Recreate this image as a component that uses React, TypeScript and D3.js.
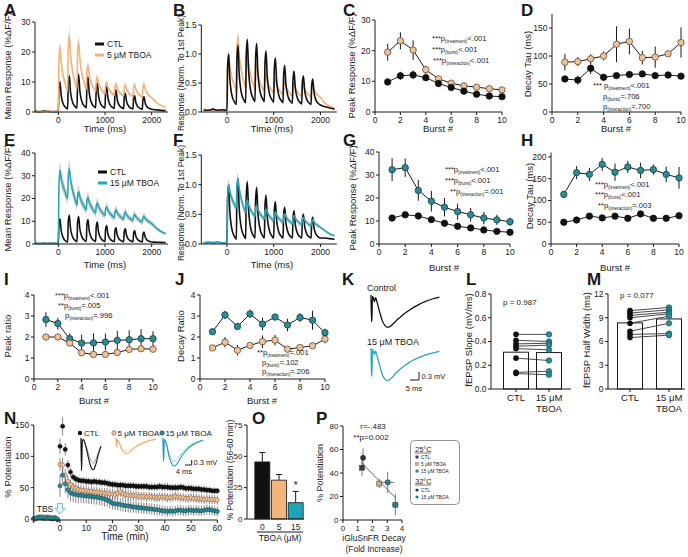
import React from 'react';
import * as d3 from 'd3';

const FONT = '"Liberation Sans", Arial, Helvetica, sans-serif';
const INK = '#1a1a1a';
const ORANGE = '#F4B47B';
const ORANGE_MK = '#EBC39C';
const ORANGE_EDGE = '#6b4a2c';
const TEAL = '#2BA6B7';
const TEAL_MK = '#2B8C96';
const TEAL_EDGE = '#173f44';
const SEM = '#cfcfcf';

// ---------- traces (A, B, E, F) ----------
const burstOnsets = [0, 200, 400, 600, 800, 1000, 1200, 1400, 1600, 1800];
const preTimes = [-500, -400, -300, -200, -100, 0];
const decayOffsets = [35, 60, 90, 120, 160, 200];
const shapeCtl = [1, 0.52, 0.26, 0.13, 0.05, 0];
const shapeTboa5 = [1, 0.66, 0.42, 0.27, 0.12, 0];
const shapeTboa15 = [1, 0.72, 0.5, 0.34, 0.16, 0];
const tailTimes = [2100, 2200, 2300];

const aCtlPre = [0.3, 0.1, 0.3, 0.2, 0.1, 0.2];
const aCtlPeak = [10.1, 12.1, 12.5, 11.6, 9.6, 8.4, 7.3, 6.2, 5.4, 5.1];
const aCtlTrough = [1.0, 1.3, 1.4, 1.4, 1.3, 1.2, 1.1, 1.0, 0.9, 0.9];
const aCtlTail = [0.7, 0.55, 0.45];
const aTboaPre = [0.1, 0.2, 0.1, 0.2, 0.2, 0.1];
const aTboaPeak = [21.7, 25.6, 23.4, 15.5, 11.6, 9.9, 9.3, 9.1, 9.1, 9.3];
const aTboaTrough = [7.0, 7.6, 7.5, 6.8, 6.0, 5.6, 5.3, 5.1, 4.9, 4.7];
const aTboaTail = [3.2, 2.2, 1.6];

const bCtlPre = [0.04, 0.03, 0.05, 0.03, 0.04, 0.03];
const bCtlPeak = [1.0, 1.15, 1.25, 1.18, 1.05, 0.93, 0.8, 0.7, 0.62, 0.57];
const bCtlTrough = [0.13, 0.16, 0.18, 0.18, 0.17, 0.16, 0.15, 0.14, 0.13, 0.12];
const bCtlTail = [0.09, 0.07, 0.05];
const bTboaPre = [0.02, 0.03, 0.02, 0.03, 0.02, 0.02];
const bTboaPeak = [1.0, 1.3, 1.1, 0.8, 0.65, 0.57, 0.53, 0.5, 0.48, 0.47];
const bTboaTrough = [0.38, 0.42, 0.4, 0.36, 0.33, 0.3, 0.28, 0.27, 0.26, 0.25];
const bTboaTail = [0.15, 0.1, 0.07];

const eCtlPre = [0.3, 0.2, 0.3, 0.2, 0.3, 0.2];
const eCtlPeak = [11.1, 12.6, 12.1, 10.8, 9.6, 8.1, 7.1, 6.7, 5.9, 5.2];
const eCtlTrough = [0.8, 1.0, 1.1, 1.1, 1.1, 1.0, 1.0, 1.0, 0.9, 0.9];
const eCtlTail = [0.8, 0.7, 0.6];
const eTboaPre = [0.2, 0.3, 0.2, 0.3, 0.2, 0.3];
const eTboaPeak = [32.5, 33.2, 23, 20.5, 18, 16.3, 15, 14, 13, 12.2];
const eTboaTrough = [20, 17, 15, 13.5, 12.5, 11.5, 10.8, 10.2, 9.6, 9.0];
const eTboaTail = [7, 5.5, 4.5];

const fCtlPre = [0.02, 0.03, 0.02, 0.03, 0.02, 0.02];
const fCtlPeak = [1.0, 1.1, 1.05, 0.95, 0.82, 0.71, 0.62, 0.56, 0.5, 0.45];
const fCtlTrough = [0.08, 0.09, 0.1, 0.1, 0.1, 0.1, 0.1, 0.1, 0.1, 0.1];
const fCtlTail = [0.1, 0.09, 0.08];
const fTboaPre = [0.02, 0.02, 0.03, 0.02, 0.02, 0.02];
const fTboaPeak = [1.0, 1.1, 0.74, 0.65, 0.59, 0.54, 0.51, 0.48, 0.45, 0.41];
const fTboaTrough = [0.6, 0.52, 0.46, 0.42, 0.39, 0.36, 0.34, 0.32, 0.3, 0.28];
const fTboaTail = [0.22, 0.17, 0.14];

// ---------- burst summaries ----------
const bursts = [1, 2, 3, 4, 5, 6, 7, 8, 9, 10];
const cCtl = [9.8, 11.8, 12.1, 11.2, 9.3, 8.0, 6.8, 5.8, 5.2, 5.0];
const cCtlErr = [1.0, 1.3, 1.4, 1.1, 0.8, 0.6, 0.5, 0.4, 0.4, 0.4];
const cTboa = [19.5, 23.2, 20.2, 13.8, 10.8, 9.4, 8.5, 8.1, 7.6, 7.2];
const cTboaErr = [2.8, 2.8, 3.2, 1.3, 0.8, 0.7, 0.6, 0.6, 0.6, 0.8];

const dCtl = [59, 57, 78, 62, 65, 67, 68, 65, 66, 64];
const dCtlErr = [5, 8, 10, 3, 2, 2, 2, 4, 2, 4];
const dTboa = [89, 90, 95, 100, 121, 126, 97, 98, 104, 124];
const dTboaErr = [15, 8, 8, 8, 32, 23, 12, 19, 3, 27];

const gCtl = [11.3, 12.7, 12.2, 10.6, 9.0, 7.7, 7.0, 6.1, 5.5, 5.1];
const gCtlErr = [1.3, 1.0, 1.0, 1.0, 0.7, 0.5, 0.5, 0.4, 0.4, 0.4];
const gTboa = [32.3, 33.2, 23.3, 18.6, 16.0, 14.1, 12.7, 11.3, 10.5, 9.7];
const gTboaErr = [5, 4, 4.5, 4.5, 4, 3.5, 3, 2.7, 2.2, 1.7];

const hCtl = [50, 55, 64, 60, 64, 59, 69, 59, 59, 65];
const hCtlErr = [3, 4, 4, 3, 4, 3, 6, 3, 3, 4];
const hTboa = [114, 164, 160, 183, 165, 177, 169, 171, 160, 152];
const hTboaErr = [8, 15, 15, 15, 20, 14, 18, 12, 18, 25];

const iTboa15 = [2.83, 2.64, 1.92, 1.71, 1.72, 1.76, 1.84, 1.87, 1.92, 1.92];
const iTboa15Err = [0.35, 0.28, 0.25, 0.4, 0.45, 0.4, 0.45, 0.45, 0.45, 0.35];
const iTboa5 = [2.0, 2.0, 1.71, 1.25, 1.17, 1.17, 1.26, 1.41, 1.44, 1.42];
const iTboa5Err = [0.08, 0.08, 0.1, 0.07, 0.06, 0.06, 0.07, 0.07, 0.07, 0.1];

const jTboa15 = [2.25, 3.05, 2.5, 3.1, 2.62, 2.95, 2.57, 2.93, 2.8, 2.2];
const jTboa15Err = [0.15, 0.2, 0.08, 0.2, 0.3, 0.15, 0.3, 0.2, 0.45, 0.2];
const jTboa5 = [1.48, 1.75, 1.37, 1.6, 1.78, 1.85, 1.42, 1.5, 1.58, 1.9];
const jTboa5Err = [0.08, 0.25, 0.25, 0.15, 0.3, 0.25, 0.1, 0.1, 0.08, 0.2];

// ---------- K traces ----------
const kTime = [0, 0.25, 0.5, 0.8, 1.3, 1.9, 2.5, 3.1, 3.8, 5, 6.2, 7.5, 8.8, 10, 11.5, 13, 15, 17.5, 20, 23, 26.5, 30, 34, 38];
const kCtl = [0, -1.0, -1.0, -0.05, -0.1, -0.25, -0.1, -0.2, -0.38, -0.68, -0.95, -1.12, -1.2, -1.2, -1.13, -1.03, -0.9, -0.76, -0.63, -0.49, -0.36, -0.25, -0.15, -0.08];
const kTboa = [0, -1.05, -1.05, -0.05, -0.1, -0.25, -0.12, -0.22, -0.4, -0.7, -0.98, -1.15, -1.22, -1.2, -1.12, -1.0, -0.86, -0.72, -0.6, -0.47, -0.36, -0.27, -0.19, -0.13];

// ---------- L, M ----------
const pairLabels = ['CTL', '15 μM|TBOA'];
const lCtl = [0.46, 0.41, 0.38, 0.36, 0.34, 0.26, 0.14, 0.13];
const lTboa = [0.46, 0.4, 0.385, 0.37, 0.33, 0.24, 0.15, 0.12];
const mCtl = [9.9, 9.6, 9.3, 9.0, 8.3, 7.3, 6.9, 6.5];
const mTboa = [10.3, 10.0, 9.7, 9.5, 9.2, 8.3, 7.0, 6.8];

// ---------- N ----------
const nBaseTimes = [-10, -9, -8, -7, -6, -5, -4, -3, -2, -1];
const nCtlBase = [0, 1, 3, 2, 1, 2, 1, 0, 2, -1];
const nT5Base = [-1, 1, 2, 4, 3, 1, 3, 2, 1, 0];
const nT15Base = [1, 2, 3, 2, 2, 3, 2, 1, 2, 0];
const nCtl = [116, 148, 111, 86, 75, 67, 64, 62, 61, 61, 60, 60, 59, 60, 59, 59, 58, 58, 57, 56, 55, 55, 54, 54, 54, 53, 53, 53, 53, 52, 52, 52, 52, 52, 51, 51, 51, 51, 52, 51, 51, 51, 50, 50, 50, 50, 51, 50, 49, 49, 49, 48, 48, 48, 47, 47, 46, 46, 45, 45, 45];
const nCtlErr = [12, 15, 10, 8, 7, 6, 6, 6, 6, 6, 6, 6, 6, 6, 6, 6, 6, 6, 6, 6, 6, 6, 6, 6, 6, 6, 6, 6, 6, 6, 6, 6, 6, 6, 6, 6, 6, 6, 6, 6, 6, 6, 6, 6, 6, 6, 6, 6, 6, 6, 6, 6, 6, 6, 6, 6, 6, 5, 5, 5, 5];
const nT5 = [87, 86, 70, 60, 55, 51, 49, 47, 46, 45, 45, 44, 44, 43, 43, 42, 42, 41, 41, 40, 40, 39, 41, 43, 40, 39, 38, 38, 37, 37, 36, 36, 36, 35, 36, 35, 35, 34, 35, 35, 35, 34, 34, 35, 36, 35, 34, 34, 33, 33, 34, 33, 33, 32, 32, 31, 32, 31, 31, 31, 30];
const nT5Err = [10, 12, 10, 9, 8, 8, 8, 8, 8, 8, 8, 8, 8, 8, 8, 8, 8, 8, 8, 8, 8, 8, 8, 8, 8, 8, 8, 8, 8, 8, 7, 7, 7, 7, 7, 7, 7, 7, 7, 7, 7, 7, 7, 7, 7, 7, 7, 7, 7, 7, 7, 7, 7, 7, 7, 7, 7, 7, 7, 7, 7];
const nT15 = [53, 70, 56, 47, 42, 40, 39, 38, 38, 37, 37, 36, 36, 35, 35, 34, 33, 32, 30, 28, 25, 24, 24, 23, 22, 21, 21, 20, 19, 19, 18, 18, 17, 17, 16, 16, 15, 15, 14, 13, 13, 12, 13, 12, 13, 14, 14, 13, 13, 14, 14, 13, 14, 13, 13, 14, 15, 15, 14, 13, 12];
const nT15Err = [18, 15, 15, 14, 14, 13, 13, 13, 12, 12, 12, 12, 12, 12, 12, 12, 12, 12, 11, 11, 10, 10, 10, 10, 10, 10, 10, 10, 9, 9, 9, 9, 9, 9, 9, 9, 9, 9, 8, 8, 8, 8, 8, 8, 8, 8, 8, 8, 8, 8, 8, 8, 8, 8, 8, 8, 8, 8, 8, 8, 8];
const nInsetCtlT = [0, 0.3, 0.8, 1.5, 2.5, 3.5, 4.5, 5.5, 6.5, 7.5, 8.5, 9.5, 10.5, 12];
const nInsetCtlPost = [0, -1.95, -0.15, -0.1, -0.35, -0.75, -1.2, -1.6, -1.85, -1.9, -1.7, -1.35, -0.95, -0.5];
const nInsetCtlBase = [0, -1.95, -0.15, -0.12, -0.32, -0.62, -0.95, -1.25, -1.45, -1.5, -1.38, -1.1, -0.8, -0.45];
const nInsetT = [0, 0.3, 0.8, 1.5, 2.5, 3.5, 5, 6.5, 8, 9.5, 11, 13, 15, 18, 21, 24];
const nInset5Post = [0, -0.55, -0.1, -0.2, -0.45, -0.7, -0.88, -0.92, -0.86, -0.74, -0.62, -0.48, -0.37, -0.24, -0.14, -0.08];
const nInset5Base = [0, -0.55, -0.1, -0.18, -0.38, -0.58, -0.72, -0.76, -0.72, -0.62, -0.52, -0.4, -0.3, -0.2, -0.12, -0.07];
const nInset15Post = [0, -1.4, -0.1, -0.2, -0.55, -1.05, -1.5, -1.68, -1.6, -1.38, -1.12, -0.84, -0.62, -0.4, -0.25, -0.14];
const nInset15Base = [0, -1.4, -0.1, -0.18, -0.48, -0.88, -1.25, -1.4, -1.33, -1.14, -0.93, -0.7, -0.52, -0.34, -0.21, -0.12];

// ---------- O ----------
const oLabels = ['0', '5', '15'];
const oVals = [45.5, 31, 13];
const oErr = [7.5, 4.5, 9];

// ---------- P ----------
const pX = [1.29, 1.36, 2.46, 3.03, 3.55];
const pY = [44.5, 53, 31, 32, 13];
const pXErr = [0.08, 0.08, 0.18, 0.45, 0.22];
const pYErr = [7, 8, 4, 9, 9];
const pShape = ['square', 'circle', 'square', 'circle', 'square'];
const pColors = ['#3d3d3d', '#333333', '#D9A778', '#2A7F88', '#2A7F88'];
const pFitX = [1.24, 3.55];
const pFitY = [49, 19];

// ---------- helpers ----------
type Pt = [number, number];

function burstTrace(pre: number[], peaks: number[], troughs: number[], shape: number[], tail: number[]): Pt[] {
  const pts: Pt[] = preTimes.map((t, i) => [t, pre[i]] as Pt);
  burstOnsets.forEach((on, i) => {
    const prev = i === 0 ? pre[pre.length - 1] : troughs[i - 1];
    pts.push([on + 12, prev + (peaks[i] - prev) * 0.75]);
    decayOffsets.forEach((off, j) => {
      pts.push([on + off, troughs[i] + (peaks[i] - troughs[i]) * shape[j]]);
    });
  });
  tailTimes.forEach((t, i) => pts.push([t, tail[i]]));
  return pts;
}

function T(props: any) {
  return <text fill={INK} {...props} />;
}

function YAxis({ scale, ticks, x, fmt, fs = 8.5, top }: any) {
  const r = scale.range();
  const f = fmt || ((d: number) => String(d));
  return (
    <g>
      <line x1={x} x2={x} y1={r[0]} y2={top ?? r[1]} stroke={INK} />
      {ticks.map((t: number) => (
        <g key={t}>
          <line x1={x - 3} x2={x} y1={scale(t)} y2={scale(t)} stroke={INK} />
          <T x={x - 4.5} y={scale(t)} dy="0.35em" textAnchor="end" fontSize={fs}>{f(t)}</T>
        </g>
      ))}
    </g>
  );
}

function XAxis({ scale, ticks, y, fmt, fs = 8.5, x0, x1, labelTicks }: any) {
  const r = scale.range();
  const f = fmt || ((d: number) => String(d));
  const lt = labelTicks || ticks;
  return (
    <g>
      <line x1={x0 ?? r[0]} x2={x1 ?? r[1]} y1={y} y2={y} stroke={INK} />
      {ticks.map((t: number) => (
        <line key={'t' + t} x1={scale(t)} x2={scale(t)} y1={y} y2={y + 3} stroke={INK} />
      ))}
      {lt.map((t: number) => (
        <T key={'l' + t} x={scale(t)} y={y + 10.5} textAnchor="middle" fontSize={fs}>{f(t)}</T>
      ))}
    </g>
  );
}

function VTitle({ x, y, fs = 9.5, children }: any) {
  return (
    <T transform={`translate(${x},${y}) rotate(-90)`} textAnchor="middle" fontSize={fs}>{children}</T>
  );
}

function PanelLabel({ x, y, children }: any) {
  return <T x={x} y={y} fontSize={17} fontWeight="bold">{children}</T>;
}

function PText({ x, y, stars, sub, rest, fs = 7.6 }: any) {
  return (
    <T x={x} y={y} dy="0.35em" fontSize={fs}>
      <tspan fill={INK}>{stars + 'p'}</tspan>
      <tspan fill={INK} fontSize={fs * 0.6} dy={fs * 0.28}>{'(' + sub + ')'}</tspan>
      <tspan fill={INK} dy={-fs * 0.28}>{rest}</tspan>
    </T>
  );
}

function Series({ xs, ys, errs, sx, sy, fill, stroke, r = 3.2 }: any) {
  const line = d3.line<number>().x((_, i) => sx(xs[i])).y((d) => sy(d));
  return (
    <g>
      <path d={line(ys) || ''} fill="none" stroke={INK} strokeWidth={1} />
      {ys.map((v: number, i: number) => (
        <line key={'e' + i} x1={sx(xs[i])} x2={sx(xs[i])} y1={sy(v - errs[i])} y2={sy(v + errs[i])} stroke={INK} strokeWidth={1} />
      ))}
      {ys.map((v: number, i: number) => (
        <circle key={'c' + i} cx={sx(xs[i])} cy={sy(v)} r={r} fill={fill} stroke={stroke} strokeWidth={0.8} />
      ))}
    </g>
  );
}

function TraceSet({ traces, sx, sy }: any) {
  const line = d3.line<Pt>().x((d) => sx(d[0])).y((d) => sy(d[1])).curve(d3.curveMonotoneX);
  return (
    <g>
      {traces.map((t: any, i: number) => {
        const a = d3
          .area<Pt>()
          .x((d) => sx(d[0]))
          .y0((d) => sy(d[1] * (1 - t.sem)))
          .y1((d) => sy(d[1] * (1 + t.sem)))
          .curve(d3.curveMonotoneX);
        return <path key={'a' + i} d={a(t.pts) || ''} fill={SEM} stroke="none" />;
      })}
      {traces.map((t: any, i: number) => (
        <path key={'l' + i} d={line(t.pts) || ''} fill="none" stroke={t.color} strokeWidth={1.6} />
      ))}
    </g>
  );
}

function WaveTrace({ t, v, x0, y0, pxPerMs, pxPerMv, color, width = 1.3 }: any) {
  const sx = d3.scaleLinear().domain([0, 1]).range([x0, x0 + pxPerMs]);
  const sy = d3.scaleLinear().domain([0, 1]).range([y0, y0 - pxPerMv]);
  const line = d3.line<number>().x((_, i) => sx(t[i])).y((d) => sy(d)).curve(d3.curveMonotoneX);
  return <path d={line(v) || ''} fill="none" stroke={color} strokeWidth={width} strokeLinejoin="round" />;
}

function PairPanel({ axisX, xEnd, sy, yTicks, fmt, ctl, tboa, cx, title, titleX, ptext, ptextX, ptextY }: any) {
  const bw = 25;
  const mC = d3.mean(ctl) as number;
  const mT = d3.mean(tboa) as number;
  const base = sy.range()[0];
  return (
    <g>
      <rect x={cx[0] - bw / 2} y={sy(mC)} width={bw} height={base - sy(mC)} fill="#fff" stroke={INK} />
      <rect x={cx[1] - bw / 2} y={sy(mT)} width={bw} height={base - sy(mT)} fill="#fff" stroke={INK} />
      {ctl.map((v: number, i: number) => (
        <line key={'p' + i} x1={cx[0]} x2={cx[1]} y1={sy(v)} y2={sy(tboa[i])} stroke={INK} strokeWidth={0.8} />
      ))}
      {ctl.map((v: number, i: number) => (
        <circle key={'c' + i} cx={cx[0]} cy={sy(v)} r={2.8} fill="#111" />
      ))}
      {tboa.map((v: number, i: number) => (
        <circle key={'t' + i} cx={cx[1]} cy={sy(v)} r={2.8} fill={TEAL_MK} stroke={TEAL_EDGE} strokeWidth={0.5} />
      ))}
      <YAxis scale={sy} ticks={yTicks} x={axisX} fmt={fmt} />
      <line x1={axisX} x2={xEnd} y1={base} y2={base} stroke={INK} />
      {cx.map((c: number) => (
        <line key={'xt' + c} x1={c} x2={c} y1={base} y2={base + 3} stroke={INK} />
      ))}
      {pairLabels.map((lab, i) => (
        <T key={lab} x={cx[i]} y={base + 12} textAnchor="middle" fontSize={9.5}>
          {lab.split('|').map((s, j) => (
            <tspan key={j} fill={INK} x={cx[i]} dy={j === 0 ? 0 : 10.5}>{s}</tspan>
          ))}
        </T>
      ))}
      <VTitle x={titleX} y={340}>{title}</VTitle>
      <T x={ptextX} y={ptextY} dy="0.35em" fontSize={8}>{ptext}</T>
    </g>
  );
}

export default function App() {
  const sxA = d3.scaleLinear().domain([-500, 2350]).range([35, 168]);
  const syA = d3.scaleLinear().domain([0, 30]).range([112, 22]);
  const sxB = d3.scaleLinear().domain([-550, 2350]).range([201.3, 336.8]);
  const syB = d3.scaleLinear().domain([0, 1.5]).range([112, 25]);
  const sxC = d3.scaleLinear().domain([0, 10]).range([375, 502]);
  const syC = d3.scaleLinear().domain([0, 30]).range([112, 20]);
  const sxD = d3.scaleLinear().domain([0, 10]).range([552, 681]);
  const syD = d3.scaleLinear().domain([0, 175]).range([112, 14]);

  const sxE = d3.scaleLinear().domain([-500, 2350]).range([35, 168]);
  const syE = d3.scaleLinear().domain([0, 40]).range([244, 153]);
  const sxF = d3.scaleLinear().domain([-550, 2350]).range([201.3, 336.8]);
  const syF = d3.scaleLinear().domain([0, 1.5]).range([244, 155]);
  const sxG = d3.scaleLinear().domain([0, 10]).range([379, 510]);
  const syG = d3.scaleLinear().domain([0, 40]).range([244, 152]);
  const sxH = d3.scaleLinear().domain([0, 10]).range([551, 679]);
  const syH = d3.scaleLinear().domain([0, 210]).range([244, 152.6]);

  const sxI = d3.scaleLinear().domain([0, 10]).range([34, 153]);
  const syI = d3.scaleLinear().domain([0, 4]).range([379, 295]);
  const sxJ = d3.scaleLinear().domain([0, 10]).range([200, 325]);
  const syJ = d3.scaleLinear().domain([0, 4]).range([379, 295]);
  const syL = d3.scaleLinear().domain([0, 0.8]).range([389, 294]);
  const syM = d3.scaleLinear().domain([0, 12]).range([389, 294]);

  const sxN = d3.scaleLinear().domain([-10, 60]).range([33.8, 217.3]);
  const syN = d3.scaleLinear().domain([0, 150]).range([519, 425]);
  const syO = d3.scaleLinear().domain([0, 75]).range([519, 425]);
  const sxO = d3.scaleBand().domain(oLabels).range([254, 304]).paddingInner(0.1).paddingOuter(0.05);
  const sxP = d3.scaleLinear().domain([0, 4]).range([343, 402]);
  const syP = d3.scaleLinear().domain([0, 80]).range([520, 426]);

  const f1 = (d: number) => d.toFixed(1);
  const burstTicks = [0, 2, 4, 6, 8, 10];

  const aTraces = [
    { pts: burstTrace(aCtlPre, aCtlPeak, aCtlTrough, shapeCtl, aCtlTail), color: '#111', sem: 0.06 },
    { pts: burstTrace(aTboaPre, aTboaPeak, aTboaTrough, shapeTboa5, aTboaTail), color: ORANGE, sem: 0.08 },
  ];
  const bTraces = [
    { pts: burstTrace(bTboaPre, bTboaPeak, bTboaTrough, shapeTboa5, bTboaTail), color: ORANGE, sem: 0.07 },
    { pts: burstTrace(bCtlPre, bCtlPeak, bCtlTrough, shapeCtl, bCtlTail), color: '#111', sem: 0.06 },
  ];
  const eTraces = [
    { pts: burstTrace(eCtlPre, eCtlPeak, eCtlTrough, shapeCtl, eCtlTail), color: '#111', sem: 0.06 },
    { pts: burstTrace(eTboaPre, eTboaPeak, eTboaTrough, shapeTboa15, eTboaTail), color: TEAL, sem: 0.12 },
  ];
  const fTraces = [
    { pts: burstTrace(fCtlPre, fCtlPeak, fCtlTrough, shapeCtl, fCtlTail), color: '#111', sem: 0.06 },
    { pts: burstTrace(fTboaPre, fTboaPeak, fTboaTrough, shapeTboa15, fTboaTail), color: TEAL, sem: 0.1 },
  ];

  const nPost = d3.range(0, 61);
  const nSeries = [
    { base: nCtlBase, post: nCtl, err: nCtlErr, fill: '#111', stroke: '#111' },
    { base: nT5Base, post: nT5, err: nT5Err, fill: '#F1C49C', stroke: '#7a5533' },
    { base: nT15Base, post: nT15, err: nT15Err, fill: TEAL_MK, stroke: TEAL_EDGE },
  ];

  const oCenter = (lab: string) => (sxO(lab) as number) + sxO.bandwidth() / 2;

  return (
    <svg width={688} height={557} style={{ position: 'absolute', left: 0, top: 0, background: '#fff' }} fontFamily={FONT}>
      <rect x={0} y={0} width={688} height={557} fill="#fff" />

      {/* ---------- A ---------- */}
      <PanelLabel x={4} y={16}>A</PanelLabel>
      <TraceSet traces={aTraces} sx={sxA} sy={syA} />
      <YAxis scale={syA} ticks={[0, 10, 20, 30]} x={35} />
      <XAxis scale={sxA} ticks={[0, 1000, 2000]} y={112} />
      <VTitle x={11} y={66}>Mean  Response (%ΔF/F)</VTitle>
      <T x={105} y={132} textAnchor="middle" fontSize={9.5}>Time (ms)</T>
      <line x1={95} x2={104} y1={44} y2={44} stroke="#111" strokeWidth={3} />
      <T x={107} y={44} dy="0.35em" fontSize={8.5}>CTL</T>
      <line x1={95} x2={104} y1={55} y2={55} stroke={ORANGE} strokeWidth={3} />
      <T x={107} y={55} dy="0.35em" fontSize={8.5}>5 μM TBOA</T>

      {/* ---------- B ---------- */}
      <PanelLabel x={173} y={16}>B</PanelLabel>
      <TraceSet traces={bTraces} sx={sxB} sy={syB} />
      <YAxis scale={syB} ticks={[0, 0.5, 1, 1.5]} x={201.3} fmt={f1} />
      <XAxis scale={sxB} ticks={[0, 1000, 2000]} y={112} />
      <VTitle x={184} y={73} fs={8.5}>Response (Norm. To 1st Peak)</VTitle>
      <T x={272} y={132} textAnchor="middle" fontSize={9.5}>Time (ms)</T>

      {/* ---------- C ---------- */}
      <PanelLabel x={343} y={16}>C</PanelLabel>
      <YAxis scale={syC} ticks={[0, 10, 20, 30]} x={375} />
      <XAxis scale={sxC} ticks={burstTicks} y={112} />
      <Series xs={bursts} ys={cTboa} errs={cTboaErr} sx={sxC} sy={syC} fill={ORANGE_MK} stroke={ORANGE_EDGE} />
      <Series xs={bursts} ys={cCtl} errs={cCtlErr} sx={sxC} sy={syC} fill="#111" stroke="#111" />
      <VTitle x={355} y={66}>Peak  Response (%ΔF/F)</VTitle>
      <T x={438} y={132} textAnchor="middle" fontSize={9.5}>Burst #</T>
      <PText x={432} y={38} stars="***" sub="treatment" rest="<.001" />
      <PText x={432} y={49} stars="***" sub="burst" rest="<.001" />
      <PText x={433} y={60} stars="***" sub="interaction" rest="<.001" />

      {/* ---------- D ---------- */}
      <PanelLabel x={521} y={16}>D</PanelLabel>
      <YAxis scale={syD} ticks={[0, 50, 100, 150]} x={552} />
      <XAxis scale={sxD} ticks={burstTicks} y={112} />
      <Series xs={bursts} ys={dTboa} errs={dTboaErr} sx={sxD} sy={syD} fill={ORANGE_MK} stroke={ORANGE_EDGE} />
      <Series xs={bursts} ys={dCtl} errs={dCtlErr} sx={sxD} sy={syD} fill="#111" stroke="#111" />
      <VTitle x={531} y={64}>Decay  Tau (ms)</VTitle>
      <T x={616} y={132} textAnchor="middle" fontSize={9.5}>Burst #</T>
      <PText x={593} y={85} stars="*** " sub="treatment" rest="<.001" />
      <PText x={603} y={96} stars="" sub="burst" rest="=.706" />
      <PText x={603} y={106} stars="" sub="interaction" rest="=.700" />

      {/* ---------- E ---------- */}
      <PanelLabel x={4} y={146}>E</PanelLabel>
      <TraceSet traces={eTraces} sx={sxE} sy={syE} />
      <YAxis scale={syE} ticks={[0, 10, 20, 30, 40]} x={35} />
      <XAxis scale={sxE} ticks={[0, 1000, 2000]} y={244} />
      <VTitle x={11} y={198}>Mean  Response (%ΔF/F)</VTitle>
      <T x={105} y={268} textAnchor="middle" fontSize={9.5}>Time (ms)</T>
      <line x1={98} x2={107} y1={172} y2={172} stroke="#111" strokeWidth={3} />
      <T x={110} y={172} dy="0.35em" fontSize={8.5}>CTL</T>
      <line x1={98} x2={107} y1={183} y2={183} stroke={TEAL} strokeWidth={3} />
      <T x={110} y={183} dy="0.35em" fontSize={8.5}>15 μM TBOA</T>

      {/* ---------- F ---------- */}
      <PanelLabel x={173} y={146}>F</PanelLabel>
      <TraceSet traces={fTraces} sx={sxF} sy={syF} />
      <YAxis scale={syF} ticks={[0, 0.5, 1, 1.5]} x={201.3} fmt={f1} />
      <XAxis scale={sxF} ticks={[0, 1000, 2000]} y={244} />
      <VTitle x={184} y={203} fs={8.5}>Response (Norm. To 1st Peak)</VTitle>
      <T x={272} y={268} textAnchor="middle" fontSize={9.5}>Time (ms)</T>

      {/* ---------- G ---------- */}
      <PanelLabel x={343} y={146}>G</PanelLabel>
      <YAxis scale={syG} ticks={[0, 10, 20, 30, 40]} x={379} />
      <XAxis scale={sxG} ticks={burstTicks} y={244} />
      <Series xs={bursts} ys={gTboa} errs={gTboaErr} sx={sxG} sy={syG} fill={TEAL_MK} stroke={TEAL_EDGE} />
      <Series xs={bursts} ys={gCtl} errs={gCtlErr} sx={sxG} sy={syG} fill="#111" stroke="#111" />
      <VTitle x={356} y={198}>Peak  Response (%ΔF/F)</VTitle>
      <T x={444} y={271} textAnchor="middle" fontSize={9.5}>Burst #</T>
      <PText x={445} y={169} stars="***" sub="treatment" rest="<.001" />
      <PText x={445} y={180} stars="***" sub="burst" rest="<.001" />
      <PText x={450} y={191} stars="**" sub="interaction" rest="=.001" />

      {/* ---------- H ---------- */}
      <PanelLabel x={521} y={146}>H</PanelLabel>
      <YAxis scale={syH} ticks={[0, 50, 100, 150, 200]} x={551} />
      <XAxis scale={sxH} ticks={burstTicks} y={244} />
      <Series xs={bursts} ys={hTboa} errs={hTboaErr} sx={sxH} sy={syH} fill={TEAL_MK} stroke={TEAL_EDGE} />
      <Series xs={bursts} ys={hCtl} errs={hCtlErr} sx={sxH} sy={syH} fill="#111" stroke="#111" />
      <VTitle x={533} y={196}>Decay Tau (ms)</VTitle>
      <T x={615} y={271} textAnchor="middle" fontSize={9.5}>Burst #</T>
      <PText x={595} y={184} stars="***" sub="treatment" rest="<.001" />
      <PText x={595} y={194} stars="***" sub="burst" rest="<.001" />
      <PText x={598} y={205} stars="**" sub="interaction" rest="=.003" />

      {/* ---------- I ---------- */}
      <PanelLabel x={4} y={285}>I</PanelLabel>
      <YAxis scale={syI} ticks={[0, 1, 2, 3, 4]} x={34} />
      <XAxis scale={sxI} ticks={burstTicks} y={379} />
      <Series xs={bursts} ys={iTboa15} errs={iTboa15Err} sx={sxI} sy={syI} fill={TEAL_MK} stroke={TEAL_EDGE} />
      <Series xs={bursts} ys={iTboa5} errs={iTboa5Err} sx={sxI} sy={syI} fill={ORANGE_MK} stroke={ORANGE_EDGE} />
      <VTitle x={11} y={336}>Peak ratio</VTitle>
      <T x={94} y={404} textAnchor="middle" fontSize={9.5}>Burst #</T>
      <PText x={55} y={295} stars="***" sub="treatment" rest="<.001" />
      <PText x={58} y={305} stars="**" sub="burst" rest="=.005" />
      <PText x={65} y={315} stars="" sub="interaction" rest="=.996" />

      {/* ---------- J ---------- */}
      <PanelLabel x={175} y={285}>J</PanelLabel>
      <YAxis scale={syJ} ticks={[0, 1, 2, 3, 4]} x={200} />
      <XAxis scale={sxJ} ticks={burstTicks} y={379} />
      <Series xs={bursts} ys={jTboa15} errs={jTboa15Err} sx={sxJ} sy={syJ} fill={TEAL_MK} stroke={TEAL_EDGE} />
      <Series xs={bursts} ys={jTboa5} errs={jTboa5Err} sx={sxJ} sy={syJ} fill={ORANGE_MK} stroke={ORANGE_EDGE} />
      <VTitle x={184} y={336}>Decay Ratio</VTitle>
      <T x={262} y={404} textAnchor="middle" fontSize={9.5}>Burst #</T>
      <PText x={257} y={352} stars="**" sub="treatment" rest="=.001" />
      <PText x={262} y={362} stars="" sub="burst" rest="=.102" />
      <PText x={262} y={371} stars="" sub="interaction" rest="=.206" />

      {/* ---------- K ---------- */}
      <PanelLabel x={342} y={285}>K</PanelLabel>
      <T x={367} y={288} dy="0.35em" fontSize={9}>Control</T>
      <WaveTrace t={kTime} v={kCtl} x0={371} y0={295} pxPerMs={1.8} pxPerMv={26.7} color="#111" />
      <T x={367} y={342} dy="0.35em" fontSize={9}>15 μM TBOA</T>
      <WaveTrace t={kTime} v={kTboa} x0={371} y0={348} pxPerMs={1.8} pxPerMv={26.7} color={TEAL} />
      <line x1={410} x2={419} y1={380} y2={380} stroke={INK} />
      <line x1={419} x2={419} y1={372} y2={380} stroke={INK} />
      <T x={421.5} y={376} dy="0.35em" fontSize={7.5}>0.3 mV</T>
      <T x={414} y={388} dy="0.35em" textAnchor="middle" fontSize={7.5}>5 ms</T>

      {/* ---------- L ---------- */}
      <PanelLabel x={466} y={285}>L</PanelLabel>
      <PairPanel axisX={491} xEnd={571} sy={syL} yTicks={[0, 0.2, 0.4, 0.6, 0.8]} fmt={f1}
        ctl={lCtl} tboa={lTboa} cx={[516, 549]} title="fEPSP Slope (mV/ms)" titleX={472}
        ptext="p = 0.987" ptextX={503} ptextY={302} />

      {/* ---------- M ---------- */}
      <PanelLabel x={587} y={285}>M</PanelLabel>
      <PairPanel axisX={608} xEnd={685} sy={syM} yTicks={[0, 3, 6, 9, 12]}
        ctl={mCtl} tboa={mTboa} cx={[630, 669]} title="fEPSP Half Width (ms)" titleX={590}
        ptext="p = 0.077" ptextX={620} ptextY={295} />

      {/* ---------- N ---------- */}
      <PanelLabel x={4} y={424}>N</PanelLabel>
      {nSeries.map((s, k) => (
        <g key={'n' + k}>
          {nBaseTimes.map((t, i) => (
            <line key={'be' + i} x1={sxN(t)} x2={sxN(t)} y1={syN(s.base[i] - 3)} y2={syN(s.base[i] + 3)} stroke="#555" strokeWidth={0.7} />
          ))}
          {nPost.map((t, i) => (
            <line key={'pe' + i} x1={sxN(t)} x2={sxN(t)} y1={syN(s.post[i] - s.err[i])} y2={syN(s.post[i] + s.err[i])} stroke="#555" strokeWidth={0.7} />
          ))}
        </g>
      ))}
      {nSeries.map((s, k) => (
        <g key={'nm' + k}>
          {nBaseTimes.map((t, i) => (
            <circle key={'b' + i} cx={sxN(t)} cy={syN(s.base[i])} r={2.1} fill={s.fill} stroke={s.stroke} strokeWidth={0.5} />
          ))}
          {nPost.map((t, i) => (
            <circle key={'p' + i} cx={sxN(t)} cy={syN(s.post[i])} r={2.1} fill={s.fill} stroke={s.stroke} strokeWidth={0.5} />
          ))}
        </g>
      ))}
      <YAxis scale={syN} ticks={[0, 50, 100, 150]} x={33.8} />
      <XAxis scale={sxN} ticks={[-10, 0, 10, 20, 30, 40, 50, 60]} labelTicks={[0, 10, 20, 30, 40, 50, 60]} y={520} />
      <VTitle x={11} y={467}>% Potentiation</VTitle>
      <T x={125} y={540} textAnchor="middle" fontSize={10}>Time (min)</T>
      <T x={45} y={509} dy="0.35em" textAnchor="middle" fontSize={8.5}>TBS</T>
      <path d="M57.5,503.5 L62.5,503.5 L62.5,508.5 L65,508.5 L60,514 L55,508.5 L57.5,508.5 Z" fill="#e4f3fb" stroke="#6fb4d6" strokeWidth={0.9} />
      <circle cx={80} cy={433} r={2.2} fill="#111" />
      <T x={84} y={433} dy="0.35em" fontSize={8}>CTL</T>
      <circle cx={114} cy={433} r={2.2} fill="#F1C49C" stroke="#7a5533" strokeWidth={0.6} />
      <T x={117.5} y={433} dy="0.35em" fontSize={8}>5 μM TBOA</T>
      <circle cx={162} cy={433} r={2.2} fill={TEAL_MK} stroke={TEAL_EDGE} strokeWidth={0.6} />
      <T x={165.5} y={433} dy="0.35em" fontSize={8}>15 μM TBOA</T>
      <WaveTrace t={nInsetCtlT} v={nInsetCtlBase} x0={81} y0={438} pxPerMs={1.67} pxPerMv={16.7} color="#999" width={1} />
      <WaveTrace t={nInsetCtlT} v={nInsetCtlPost} x0={81} y0={438} pxPerMs={1.67} pxPerMv={16.7} color="#111" width={1.1} />
      <WaveTrace t={nInsetT} v={nInset5Base} x0={116} y0={438} pxPerMs={1.67} pxPerMv={16.7} color="#F7D6B5" width={1} />
      <WaveTrace t={nInsetT} v={nInset5Post} x0={116} y0={438} pxPerMs={1.67} pxPerMv={16.7} color="#EBAE77" width={1.1} />
      <WaveTrace t={nInsetT} v={nInset15Base} x0={163} y0={438} pxPerMs={1.67} pxPerMv={16.7} color="#8ED0DA" width={1} />
      <WaveTrace t={nInsetT} v={nInset15Post} x0={163} y0={438} pxPerMs={1.67} pxPerMv={16.7} color="#1E9DB0" width={1.1} />
      <line x1={185} x2={191.7} y1={465} y2={465} stroke={INK} />
      <line x1={191.7} x2={191.7} y1={460} y2={465} stroke={INK} />
      <T x={193.5} y={462.5} dy="0.35em" fontSize={7.5}>0.3 mV</T>
      <T x={184} y={471} dy="0.35em" textAnchor="middle" fontSize={7.5}>4 ms</T>

      {/* ---------- O ---------- */}
      <PanelLabel x={252} y={424}>O</PanelLabel>
      {oLabels.map((lab, i) => (
        <g key={lab}>
          <rect x={sxO(lab)} y={syO(oVals[i])} width={sxO.bandwidth()} height={519 - syO(oVals[i])}
            fill={['#111', ORANGE, '#1FA3B6'][i]} stroke={INK} strokeWidth={0.8} />
          <line x1={oCenter(lab)} x2={oCenter(lab)} y1={syO(oVals[i])} y2={syO(oVals[i] + oErr[i])} stroke={INK} />
          <line x1={oCenter(lab) - 3} x2={oCenter(lab) + 3} y1={syO(oVals[i] + oErr[i])} y2={syO(oVals[i] + oErr[i])} stroke={INK} />
          <T x={oCenter(lab)} y={529.5} textAnchor="middle" fontSize={8.5}>{lab}</T>
        </g>
      ))}
      <T x={oCenter('15')} y={syO(oVals[2] + oErr[2]) - 2} textAnchor="middle" fontSize={10}>*</T>
      <YAxis scale={syO} ticks={[0, 25, 50, 75]} x={247} fs={8} />
      <line x1={247} x2={304} y1={519} y2={519} stroke={INK} />
      <line x1={257} x2={303} y1={532} y2={532} stroke={INK} />
      <T x={280} y={541} textAnchor="middle" fontSize={8.5}>TBOA (μM)</T>
      <VTitle x={233} y={470} fs={8.5}>% Potentiation (56-60 min)</VTitle>

      {/* ---------- P ---------- */}
      <PanelLabel x={316} y={424}>P</PanelLabel>
      <YAxis scale={syP} ticks={[0, 20, 40, 60, 80]} x={343} fs={8} />
      <XAxis scale={sxP} ticks={[0, 1, 2, 3, 4]} y={520} fs={8} />
      <path d={d3.line<number>().x((_, i) => sxP(pFitX[i])).y((d) => syP(d))(pFitY) || ''} stroke="#999" strokeWidth={1.2} fill="none" />
      {pX.map((x, i) => (
        <g key={'pe' + i}>
          <line x1={sxP(x)} x2={sxP(x)} y1={syP(pY[i] - pYErr[i])} y2={syP(pY[i] + pYErr[i])} stroke="#555" strokeWidth={0.8} />
          <line x1={sxP(x - pXErr[i])} x2={sxP(x + pXErr[i])} y1={syP(pY[i])} y2={syP(pY[i])} stroke="#555" strokeWidth={0.8} />
        </g>
      ))}
      {pX.map((x, i) =>
        pShape[i] === 'square' ? (
          <rect key={'pm' + i} x={sxP(x) - 2.5} y={syP(pY[i]) - 2.5} width={5} height={5} fill={pColors[i]} stroke="#333" strokeWidth={0.5} />
        ) : (
          <circle key={'pm' + i} cx={sxP(x)} cy={syP(pY[i])} r={2.6} fill={pColors[i]} stroke="#222" strokeWidth={0.5} />
        )
      )}
      <T x={373} y={426} dy="0.35em" textAnchor="middle" fontSize={8}>r=-.483</T>
      <T x={371} y={437} dy="0.35em" textAnchor="middle" fontSize={8}>**p=0.002</T>
      <VTitle x={323} y={473} fs={9}>% Potentiation</VTitle>
      <T x={374} y={541} textAnchor="middle" fontSize={8.5}>iGluSnFR Decay</T>
      <T x={374} y={552} textAnchor="middle" fontSize={8.5}>(Fold Increase)</T>
      <rect x={410.5} y={440.5} width={49} height={64} rx={4} fill="#fff" stroke="#777" strokeWidth={0.8} />
      <T x={415} y={449} dy="0.35em" fontSize={7.5}>25°C</T>
      <line x1={415} x2={431} y1={453} y2={453} stroke={INK} strokeWidth={0.6} />
      <rect x={415.5} y={455.5} width={3} height={3} fill="#3d3d3d" />
      <T x={421} y={457} dy="0.35em" fontSize={4.8}>CTL</T>
      <rect x={415.5} y={462.5} width={3} height={3} fill="#D9A778" stroke="#555" strokeWidth={0.3} />
      <T x={421} y={464} dy="0.35em" fontSize={4.8}>5 μM TBOA</T>
      <rect x={415.5} y={469.5} width={3} height={3} fill="#2A7F88" />
      <T x={421} y={471} dy="0.35em" fontSize={4.8}>15 μM TBOA</T>
      <T x={415} y={481} dy="0.35em" fontSize={7.5}>32°C</T>
      <line x1={415} x2={431} y1={485} y2={485} stroke={INK} strokeWidth={0.6} />
      <circle cx={417} cy={490} r={1.6} fill="#333" />
      <T x={421} y={490} dy="0.35em" fontSize={4.8}>CTL</T>
      <circle cx={417} cy={497} r={1.6} fill="#2A7F88" />
      <T x={421} y={497} dy="0.35em" fontSize={4.8}>15 μM TBOA</T>
    </svg>
  );
}
